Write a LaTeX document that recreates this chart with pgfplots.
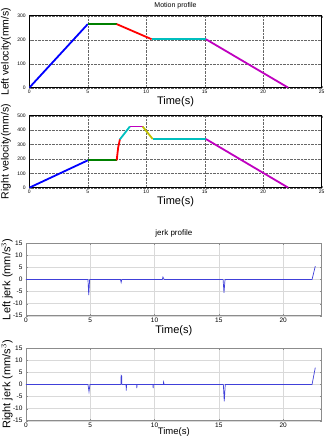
\documentclass[border=0pt]{standalone}
\usepackage{pgfplots}
\pgfplotsset{compat=1.18}
\usepackage{fontspec}
\setmainfont{Liberation Sans}
\definecolor{mg}{rgb}{0,0.5,0}
\definecolor{mc}{rgb}{0,0.75,0.75}
\definecolor{mm}{rgb}{0.75,0,0.75}
\definecolor{my}{rgb}{0.75,0.75,0}
\definecolor{jb}{rgb}{0.25,0.25,0.85}
\pgfplotsset{
  vel/.style={scale only axis, width=292.4pt, height=72pt, anchor=north west,
    xmin=0, xmax=25, ymin=0, xtick={0,5,10,15,20,25},
    grid=major, major grid style={densely dotted, black!60, line width=0.4pt},
    tick align=inside, major tick length=2pt, axis line style={line width=0.5pt},
    tick label style={font=\fontsize{5}{6}\selectfont},
    /pgf/number format/assume math mode=true,
    xticklabel style={yshift=1pt},
    xlabel={Time(s)}, xlabel style={font=\fontsize{11}{12}\selectfont, yshift=4pt},
    every axis y label/.style={at={(rel axis cs:0,0.5)}, xshift=-23.5pt, rotate=90, anchor=center, font=\fontsize{10.5}{12}\selectfont},
    title style={font=\fontsize{7}{8}\selectfont, yshift=-3pt},
    every axis plot/.append style={line width=1.8pt},
  },
  jerk/.style={scale only axis, width=295.7pt, height=72.4pt, anchor=north west,
    xmin=0, xmax=23, ymin=-15, ymax=15, xtick={0,5,10,15,20}, ytick={-15,-10,...,15},
    grid=major, major grid style={solid, black!15, line width=0.4pt},
    axis line style={black!45, line width=0.5pt}, tick style={black!45},
    tick align=inside, major tick length=2pt,
    tick label style={font=\fontsize{6.5}{7}\selectfont},
    /pgf/number format/assume math mode=true,
    xticklabel style={yshift=1.5pt},
    xlabel={Time(s)}, xlabel style={font=\fontsize{11}{12}\selectfont, yshift=4pt},
    every axis y label/.style={at={(rel axis cs:0,0.5)}, xshift=-19pt, rotate=90, anchor=center, font=\fontsize{11}{12}\selectfont},
    title style={font=\fontsize{8}{9}\selectfont, yshift=-3pt},
    every axis plot/.append style={line width=0.7pt, color=jb},
  },
}
\begin{document}
\begin{tikzpicture}
\useasboundingbox (0,0) rectangle (326pt,-437pt);
% Panel 1
\begin{axis}[vel, at={(29.3pt,-15.7pt)}, ymax=300, ytick={0,100,200,300},
  title={Motion profile}, ylabel={Left velocity(mm/s)}]
\addplot[blue, no marks] coordinates {(0,0) (5,265)};
\addplot[mg, no marks] coordinates {(5,265) (7.47,265)};
\addplot[red, no marks] coordinates {(7.47,265) (10.46,202)};
\addplot[mc, no marks] coordinates {(10.46,202) (15.1,202)};
\addplot[mm, no marks] coordinates {(15.1,202) (22.14,0)};
\end{axis}
% Panel 2
\begin{axis}[vel, at={(29.3pt,-115.7pt)}, ymax=500, ytick={0,100,200,300,400,500},
  ylabel={Right velocity(mm/s)}]
\addplot[blue, no marks] coordinates {(0,0) (5,190)};
\addplot[mg, no marks] coordinates {(5,190) (7.47,190)};
\addplot[red, no marks] coordinates {(7.47,190) (7.6,280) (7.75,336)};
\addplot[mc, no marks] coordinates {(7.75,336) (8.6,425)};
\addplot[mm, no marks] coordinates {(8.6,425) (9.69,425)};
\addplot[my, no marks] coordinates {(9.69,425) (10.55,338)};
\addplot[mc, no marks] coordinates {(10.55,338) (15.1,338)};
\addplot[mm, no marks] coordinates {(15.1,338) (22.14,0)};
\end{axis}
% Panel 3
\begin{axis}[jerk, at={(26pt,-243.3pt)}, title={jerk profile},
  ylabel={Left jerk (mm/s$^{3}$)}]
\addplot[no marks] coordinates {(0,0) (4.82,0) (4.88,-6.5) (4.95,0) (7.35,0) (7.4,-1.2) (7.45,0)
  (10.6,0) (10.65,1) (10.75,0) (15.33,0) (15.4,-5.5) (15.48,0) (22.25,0) (22.5,5.5)};
\end{axis}
% Panel 4
\begin{axis}[jerk, at={(26pt,-348.3pt)},
  xlabel style={font=\fontsize{9.5}{10}\selectfont, yshift=3pt},
  ylabel={Right jerk (mm/s$^{3}$)}]
\addplot[no marks] coordinates {(0,0) (4.82,0) (4.9,-3) (4.98,0) (7.38,0) (7.4,3.8) (7.44,3.5) (7.46,0)
  (7.78,0) (7.8,-2.5) (7.82,0) (8.6,0) (8.62,-1.5) (8.64,0) (9.87,0) (9.89,-1.5) (9.91,0)
  (10.68,0) (10.7,1) (10.75,0) (15.35,0) (15.42,-7) (15.5,0) (22.25,0) (22.5,7)};
\end{axis}
\end{tikzpicture}
\end{document}
